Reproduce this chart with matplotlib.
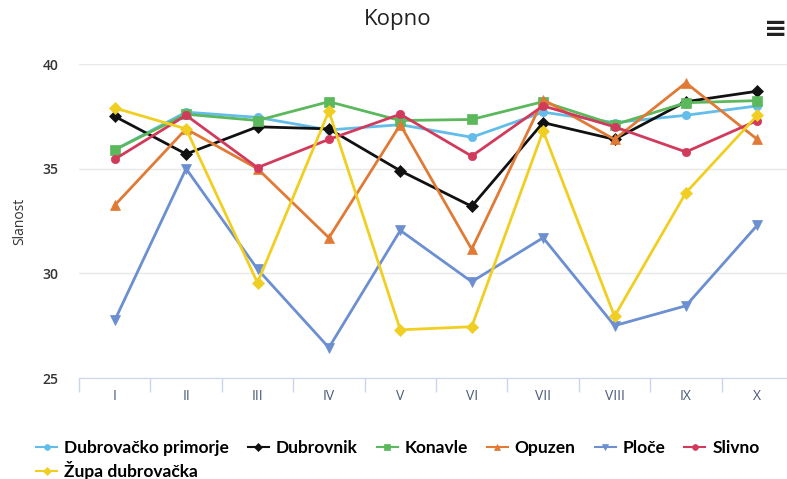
import matplotlib.pyplot as plt
from matplotlib.ticker import FixedLocator

months = ["I", "II", "III", "IV", "V", "VI", "VII", "VIII", "IX", "X"]

dubrovacko_primorje = [35.9, 37.7, 37.45, 36.85, 37.1, 36.5, 37.7, 37.2, 37.55, 38.0]
dubrovnik = [37.5, 35.7, 37.0, 36.9, 34.9, 33.2, 37.2, 36.4, 38.2, 38.7]
konavle = [35.9, 37.6, 37.3, 38.2, 37.3, 37.35, 38.2, 37.1, 38.15, 38.25]
opuzen = [33.25, 36.9, 35.0, 31.7, 37.1, 31.15, 38.3, 36.4, 39.1, 36.4]
ploce = [27.75, 35.0, 30.2, 26.45, 32.05, 29.6, 31.7, 27.5, 28.45, 32.3]
slivno = [35.45, 37.55, 35.05, 36.4, 37.6, 35.6, 38.0, 37.0, 35.8, 37.3]
zupa = [37.9, 36.9, 29.55, 37.75, 27.3, 27.45, 36.8, 27.95, 33.85, 37.55]

series = [
    ("Dubrovačko primorje", dubrovacko_primorje, "#62bdea", "o"),
    ("Dubrovnik", dubrovnik, "#111111", "D"),
    ("Konavle", konavle, "#5cb85c", "s"),
    ("Opuzen", opuzen, "#e07a35", "^"),
    ("Ploče", ploce, "#6b8fd0", "v"),
    ("Slivno", slivno, "#d23a5c", "o"),
    ("Župa dubrovačka", zupa, "#f0cf22", "D"),
]

plt.rcParams["font.family"] = ["Open Sans", "DejaVu Sans"]

fig = plt.figure(figsize=(7.87, 4.79), dpi=100)
ax = fig.add_axes([79 / 787, 101 / 479, 714 / 787, 314 / 479])

x = list(range(len(months)))
lines = []
for name, vals, col, mk in series:
    ms = 6 if mk in ("D", "o") else 7
    ln, = ax.plot(x, vals, color=col, lw=2, marker=mk, ms=ms, label=name,
                  markeredgewidth=0.5, markeredgecolor=col, clip_on=False)
    lines.append(ln)

ax.set_xlim(-0.5, 9.5)
ax.set_ylim(25, 40)
ax.set_yticks([25, 30, 35, 40])
ax.set_xticks(x)
ax.set_xticklabels(months)
ax.xaxis.set_minor_locator(FixedLocator([i - 0.5 for i in range(11)]))

ax.grid(axis="y", color="#e8e8e8", lw=1)
ax.set_axisbelow(True)
for s in ["top", "right", "left"]:
    ax.spines[s].set_visible(False)
ax.spines["bottom"].set_color("#ccd6eb")

ax.tick_params(axis="x", which="major", length=0, pad=8, labelsize=10, labelcolor="#4a5a78")
ax.tick_params(axis="x", which="minor", length=10, color="#ccd6eb", width=1)
ax.tick_params(axis="y", length=0, pad=15, labelsize=10, labelcolor="#333333")
for t in ax.get_yticklabels():
    t.set_fontweight("semibold")
ax.set_ylabel("Slanost", fontsize=10, color="#333333", labelpad=11)

fig.text(0.505, 0.96, "Kopno", ha="center", va="center", fontsize=16, color="#222222")
fig.text(0.985, 0.94, "≡", ha="center", va="center", fontsize=20, color="#222222",
         fontweight="bold", family="DejaVu Sans")

# legend filled column-wise, so put Župa in column 0 under the first item
order = [0, 6, 1, 2, 3, 4, 5]
leg = fig.legend([lines[i] for i in order], [series[i][0] for i in order],
                 loc="upper left", bbox_to_anchor=(0.035, 0.1), ncol=6, frameon=False,
                 prop={"family": "Lato", "weight": "bold", "size": 12.5},
                 handlelength=1.2, handletextpad=0.4, columnspacing=1.1,
                 labelspacing=0.3, markerscale=0.7, borderpad=0)
for h in leg.legend_handles:
    h.set_linewidth(1.5)

fig.savefig("out.png", dpi=100)
